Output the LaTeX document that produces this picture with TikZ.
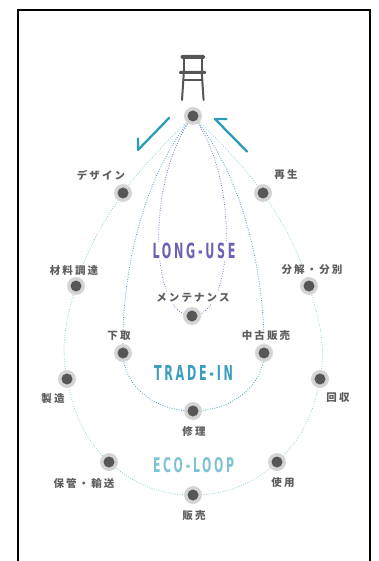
\documentclass[tikz,border=0pt]{standalone}
\usepackage{fontspec}
\usepackage{graphicx}
\newfontfamily\jpfont[LetterSpace=20]{Noto Sans CJK JP}
\newfontfamily\ttlfont[LetterSpace=22]{DejaVu Sans Condensed}
\definecolor{dotgray}{HTML}{575757}
\definecolor{labgray}{HTML}{5E5E5E}
\definecolor{chairgray}{HTML}{555555}
\definecolor{purp}{HTML}{6A62B4}
\definecolor{purpline}{HTML}{7A6EC8}
\definecolor{tealA}{HTML}{3A9DC0}
\definecolor{tealB}{HTML}{8CCFDC}
\definecolor{tealC}{HTML}{7CC4D4}
\definecolor{arrowc}{HTML}{2C9CB6}
\pgfdeclareradialshading{halo}{\pgfpoint{0bp}{0bp}}{color(0bp)=(black!20); color(31bp)=(black!15); color(38bp)=(black!7); color(50bp)=(white)}
\pgfdeclarelayer{bg}
\pgfsetlayers{bg,main}
\begin{document}
\begin{tikzpicture}[x=1pt,y=-1pt,
  dot/.style={circle, inner sep=0pt, minimum size=18pt, shade, shading=halo,
    path picture={\fill[dotgray] (path picture bounding box.center) circle (5.5pt);}},
  lab/.style={font=\jpfont\bfseries\fontsize{10.5pt}{12pt}\selectfont, text=labgray, fill=white, inner sep=1pt},
  ttl/.style={fill=white, inner sep=1pt},
  dotline/.style={line width=0.8pt, dash pattern=on 0.8pt off 1.6pt},
  ecol/.style={dotline, draw=tealB},
  trdl/.style={dotline, draw=tealA},
  lngl/.style={dotline, draw=purpline},
  arr/.style={draw=arrowc, line width=2.3pt, line cap=round, line join=round},
  chairline/.style={draw=chairgray, line cap=round}]
\useasboundingbox (0,0) rectangle (378,561);
% frame
\draw[line width=2pt] (17.7,575) -- (17.7,10.3) -- (369.7,10.3) -- (369.7,575);
% chair
\fill[chairgray, rounded corners=1.5pt] (180.5,54.8) rectangle (205,59);
\draw[chairline, line width=2pt] (183.8,58) -- (183.8,71);
\draw[chairline, line width=2pt] (201.8,58) -- (201.8,71);
\fill[chairgray, rounded corners=1pt] (179,71) rectangle (206,74);
\draw[chairline, line width=2pt] (183.8,73) -- (182,100);
\draw[chairline, line width=2pt] (201.8,73) -- (203.6,100);
\draw[chairline, line width=1.5pt] (183.3,80) -- (202.3,80);
% dots
\node[dot] (nT) at (193,116) {};
\node[dot] (nDes) at (123,193) {};
\node[dot] (nReg) at (263,193) {};
\node[dot] (nMat) at (76,286) {};
\node[dot] (nDis) at (309,286) {};
\node[dot] (nMnt) at (192,316) {};
\node[dot] (nShi) at (123,353) {};
\node[dot] (nUsd) at (264,353) {};
\node[dot] (nMan) at (67,379) {};
\node[dot] (nRec) at (320,379) {};
\node[dot] (nRep) at (193,411) {};
\node[dot] (nSto) at (109,462) {};
\node[dot] (nUse) at (277,462) {};
\node[dot] (nSal) at (193,495) {};
% labels
\node[lab] (lDes) at (101,175) {デザイン};
\node[lab] (lReg) at (286,175) {再生};
\node[lab] (lMat) at (74,271) {材料調達};
\node[lab] (lDis) at (312,270) {分解・分別};
\node[lab] (lMnt) at (193,298) {メンテナンス};
\node[lab] (lShi) at (119,336) {下取};
\node[lab] (lUsd) at (266,336) {中古販売};
\node[lab] (lMan) at (53,399) {製造};
\node[lab] (lRec) at (338,398) {回収};
\node[lab] (lRep) at (194,431) {修理};
\node[lab] (lSto) at (84,483) {保管・輸送};
\node[lab] (lUse) at (283,483) {使用};
\node[lab] (lSal) at (194,516) {販売};
% titles
\node[ttl, text=purp] (tLong) at (194,251) {\resizebox{83pt}{15.5pt}{\ttlfont\bfseries LONG-USE}};
\node[ttl, text=tealA] (tTrade) at (193.5,372.5) {\resizebox{79pt}{15pt}{\ttlfont\bfseries TRADE-IN}};
\node[ttl, text=tealC] (tEco) at (193.5,464.8) {\resizebox{81pt}{15pt}{\ttlfont\bfseries ECO-LOOP}};
% arrows
\coordinate (aL1) at (169,118);
\coordinate (aL2) at (138,150);
\coordinate (aL3) at (138,138.5);
\coordinate (aR1) at (247,151.5);
\coordinate (aR2) at (215,119);
\coordinate (aR3) at (226.5,119);
\draw[arr] (aL1) -- (aL2) -- (aL3);
\draw[arr] (aR1) -- (aR2) -- (aR3);
% loops
\begin{pgfonlayer}{bg}
\draw[ecol] plot[smooth, tension=0.7] coordinates {(nT.center) (nDes.center) (nMat.center) (nMan.center) (nSto.center) (nSal.center) (nUse.center) (nRec.center) (nDis.center) (nReg.center) (nT.center)};
\draw[trdl] (nT.center) .. controls (140,180) and (121,280) .. (nShi.center)
  .. controls (123,385) and (154,411) .. (nRep.center)
  .. controls (232,411) and (264,385) .. (nUsd.center)
  .. controls (265,280) and (246,180) .. (nT.center);
\draw[lngl] (nT.center) .. controls (145,180) and (150,316) .. (nMnt.center)
  .. controls (234,316) and (241,180) .. (nT.center);
\end{pgfonlayer}
\end{tikzpicture}
\end{document}
